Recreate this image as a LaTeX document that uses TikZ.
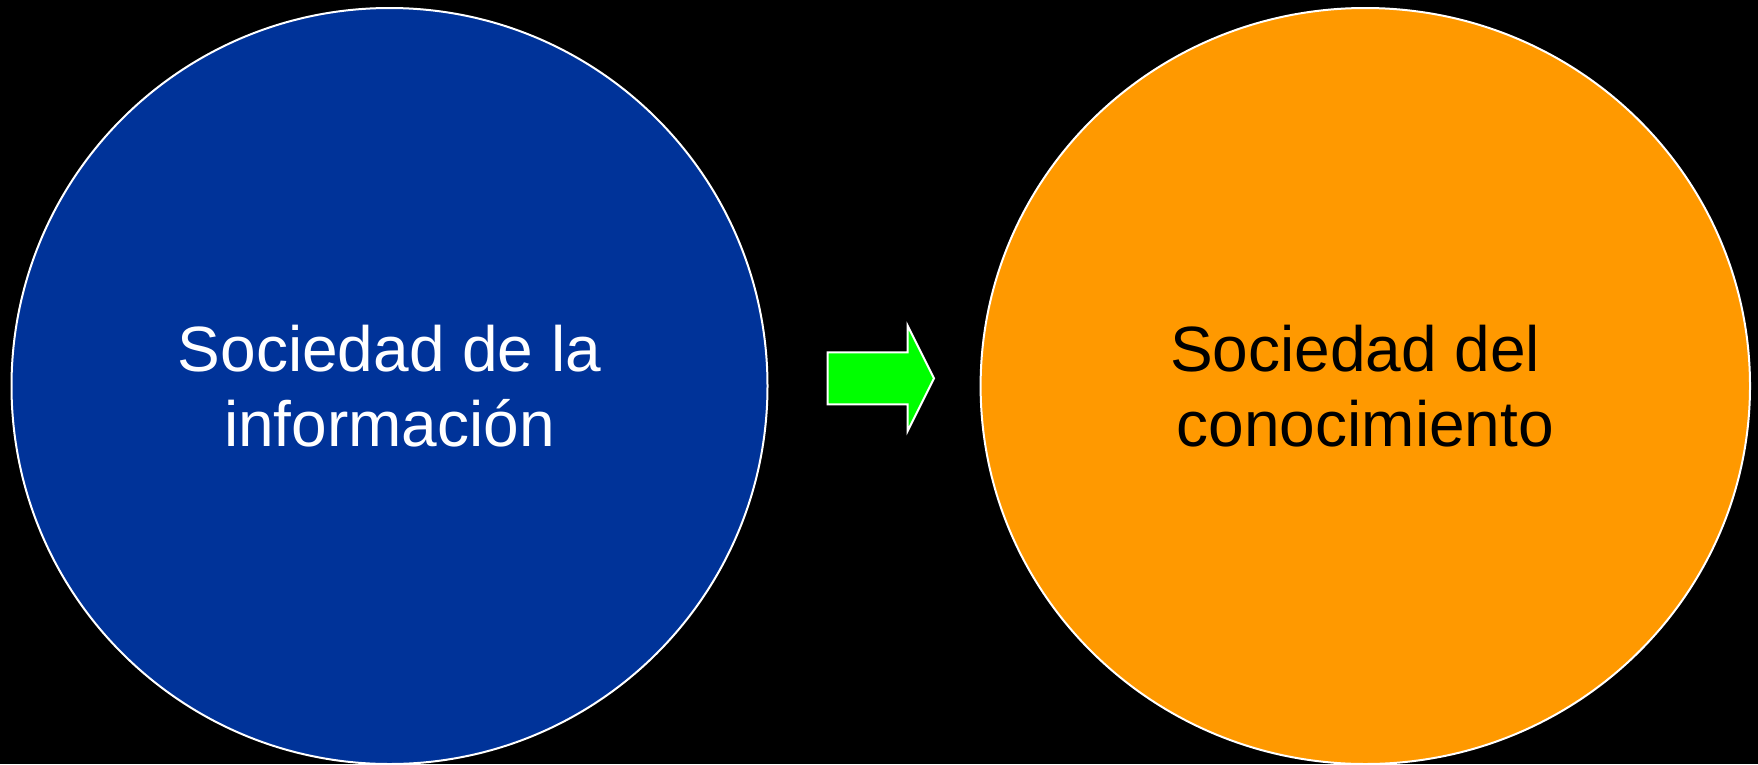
\documentclass[tikz,border=0pt]{standalone}
\usepackage{fontspec}
\setmainfont{Liberation Sans}
\usetikzlibrary{shapes.geometric}
\definecolor{infoblue}{RGB}{0,51,153}
\definecolor{knoworange}{RGB}{255,153,0}
\definecolor{arrowgreen}{RGB}{0,255,0}
\tikzset{
  bubble/.style={draw=white, line width=2pt, align=center,
    font=\fontsize{64}{75}\selectfont},
  blockarrow/.style={draw=white, line width=2pt, fill=arrowgreen, line join=miter}
}
\begin{document}
\begin{tikzpicture}[x=1pt,y=-1pt]
  \fill[black] (0,0) rectangle (1758,764);
  \useasboundingbox (0,0) rectangle (1758,764);
  \node[bubble, circle, fill=infoblue, text=white, minimum size=756pt, inner sep=0pt]
    (info) at (389.5,386) {Sociedad de la\\información};
  \node[bubble, ellipse, fill=knoworange, text=black, minimum width=769.4pt,
    minimum height=756pt, inner sep=0pt]
    (know) at (1365.3,386) {Sociedad del\hspace*{20pt}\\conocimiento};
  \draw[blockarrow] (827.7,352.3) -- (907.7,352.3) -- (907.7,325.7) -- (934,378.3)
    -- (907.7,431) -- (907.7,404.3) -- (827.7,404.3) -- cycle;
\end{tikzpicture}
\end{document}
